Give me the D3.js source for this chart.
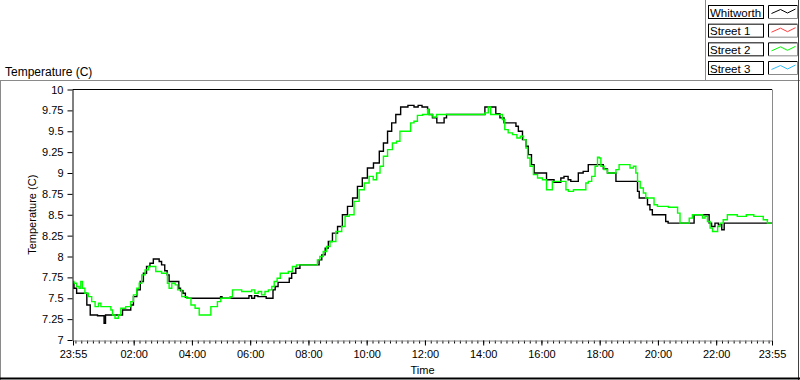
<!DOCTYPE html>
<html><head><meta charset="utf-8">
<script src="https://cdn.jsdelivr.net/npm/d3@7"></script>
<style>body{margin:0;background:#fff;overflow:hidden} text{font-family:"Liberation Sans",Arial,sans-serif}</style>
</head><body><svg id="c" width="800" height="380"></svg>
<script>
const seriesNames = ["Whitworth", "Street 1", "Street 2", "Street 3"];
const seriesColors = ["#000000", "#ff3a3a", "#00ff00", "#33bbff"];
const xTickMinutes = [0, 125, 245, 365, 485, 605, 725, 845, 965, 1085, 1205, 1325, 1440];
const xTickLabels = ["23:55", "02:00", "04:00", "06:00", "08:00", "10:00", "12:00", "14:00", "16:00", "18:00", "20:00", "22:00", "23:55"];
const yTicks = [7, 7.25, 7.5, 7.75, 8, 8.25, 8.5, 8.75, 9, 9.25, 9.5, 9.75, 10];
const yTitle = "Temperature (C)";
const xTitle = "Time";

// [minutes since 23:55, temperature]
const whitworth = [
[0,7.68],[4,7.62],[11,7.56],[25,7.56],[32,7.42],[39,7.30],[62,7.29],[66,7.20],[68,7.30],[76,7.30],
[100,7.30],[104,7.36],[117,7.36],[121,7.42],[128,7.52],[135,7.60],[142,7.70],[148,7.80],[155,7.88],[162,7.92],
[169,7.97],[176,7.97],[179,7.94],[186,7.90],[192,7.83],[196,7.78],[200,7.70],[217,7.70],[219,7.62],[224,7.59],
[229,7.56],[234,7.51],[238,7.50],[303,7.50],[305,7.52],[309,7.50],[360,7.50],[365,7.53],[371,7.50],[377,7.53],
[385,7.52],[411,7.50],[413,7.60],[420,7.64],[425,7.69],[444,7.69],[447,7.74],[454,7.80],[464,7.86],[471,7.90],
[505,7.90],[509,7.96],[516,8.02],[523,8.10],[529,8.18],[540,8.28],[550,8.36],[560,8.50],[571,8.60],[581,8.70],
[591,8.84],[601,8.94],[612,9.06],[626,9.12],[636,9.26],[643,9.36],[653,9.50],[660,9.60],[670,9.70],[680,9.79],
[700,9.81],[705,9.79],[717,9.81],[721,9.79],[729,9.79],[732,9.76],[735,9.70],[746,9.66],[753,9.60],[763,9.60],
[766,9.66],[773,9.70],[845,9.70],[852,9.79],[869,9.79],[873,9.71],[886,9.66],[890,9.60],[911,9.60],[914,9.56],
[921,9.50],[931,9.40],[935,9.32],[941,9.22],[948,9.10],[952,9.00],[972,9.00],[979,8.92],[1003,8.89],[1007,8.94],
[1016,8.96],[1024,8.92],[1027,8.90],[1038,8.90],[1044,9.00],[1058,9.02],[1065,9.10],[1089,9.10],[1096,9.05],[1106,9.00],
[1117,9.00],[1120,8.90],[1161,8.90],[1165,8.78],[1168,8.70],[1182,8.70],[1185,8.62],[1192,8.56],[1195,8.50],[1219,8.50],
[1223,8.42],[1229,8.40],[1278,8.40],[1281,8.50],[1309,8.50],[1312,8.40],[1319,8.36],[1326,8.40],[1333,8.38],[1340,8.32],
[1343,8.40],[1440,8.40]
];

const street2 = [
[0,7.70],[4,7.68],[11,7.64],[14,7.62],[18,7.70],[21,7.62],[28,7.56],[35,7.52],[42,7.46],[49,7.40],
[56,7.44],[59,7.40],[76,7.40],[80,7.36],[83,7.30],[90,7.26],[97,7.30],[100,7.38],[117,7.40],[121,7.46],
[128,7.54],[135,7.62],[138,7.68],[145,7.78],[152,7.84],[159,7.88],[169,7.88],[172,7.82],[193,7.80],[196,7.68],
[200,7.62],[207,7.68],[214,7.66],[217,7.60],[231,7.52],[238,7.50],[248,7.42],[255,7.38],[265,7.30],[282,7.30],
[286,7.40],[296,7.40],[299,7.46],[310,7.50],[320,7.50],[327,7.52],[330,7.60],[365,7.58],[371,7.60],[378,7.56],
[385,7.58],[392,7.54],[399,7.58],[406,7.60],[413,7.64],[416,7.70],[425,7.74],[429,7.80],[440,7.80],[447,7.82],
[457,7.88],[464,7.90],[502,7.90],[505,7.96],[512,8.00],[519,8.06],[526,8.12],[533,8.18],[550,8.30],[557,8.36],
[564,8.48],[574,8.50],[584,8.66],[595,8.80],[605,8.88],[615,8.96],[622,8.92],[629,9.00],[636,9.08],[643,9.20],
[653,9.28],[663,9.36],[670,9.38],[677,9.50],[694,9.50],[697,9.60],[708,9.62],[711,9.69],[729,9.70],[732,9.76],
[735,9.70],[748,9.67],[750,9.70],[845,9.70],[852,9.72],[859,9.79],[862,9.70],[883,9.70],[886,9.64],[893,9.52],
[900,9.48],[911,9.46],[918,9.42],[925,9.44],[931,9.40],[935,9.30],[938,9.18],[945,9.08],[952,8.98],[962,8.94],
[972,8.92],[979,8.80],[986,8.80],[989,8.90],[1014,8.90],[1017,8.80],[1024,8.78],[1038,8.80],[1055,8.80],[1058,8.88],
[1065,8.90],[1072,8.96],[1079,9.08],[1082,9.19],[1086,9.18],[1089,9.08],[1099,9.04],[1103,9.00],[1117,9.00],[1120,9.04],
[1130,9.10],[1144,9.10],[1151,9.06],[1158,9.08],[1161,9.00],[1165,8.90],[1172,8.82],[1178,8.76],[1182,8.70],[1195,8.70],
[1199,8.62],[1209,8.60],[1244,8.59],[1247,8.52],[1254,8.40],[1268,8.40],[1271,8.46],[1281,8.50],[1295,8.50],[1299,8.46],
[1305,8.48],[1309,8.42],[1316,8.34],[1319,8.30],[1326,8.30],[1330,8.36],[1336,8.40],[1343,8.44],[1353,8.50],[1384,8.48],
[1390,8.50],[1415,8.48],[1429,8.44],[1432,8.40],[1440,8.40]
];

const svg = d3.select("#c");
const L = 73, R = 772, T = 89.5, B = 340;
const x = d3.scaleLinear().domain([0, 1440]).range([L, R]);
const y = d3.scaleLinear().domain([7, 10]).range([B, T]);

// panel frame
svg.append("line").attr("x1",0).attr("x2",800).attr("y1",80.5).attr("y2",80.5).attr("stroke","#8a8a8a");
svg.append("line").attr("x1",0.5).attr("x2",0.5).attr("y1",80).attr("y2",380).attr("stroke","#8a8a8a");
svg.append("line").attr("x1",705.5).attr("x2",705.5).attr("y1",0).attr("y2",80).attr("stroke","#8a8a8a");
svg.append("line").attr("x1",798.5).attr("x2",798.5).attr("y1",0).attr("y2",380).attr("stroke","#404040");
svg.append("line").attr("x1",0).attr("x2",800).attr("y1",378.5).attr("y2",378.5).attr("stroke","#000").attr("stroke-width",2);

// top-left title
svg.append("text").attr("x",5).attr("y",76).attr("font-size",12).attr("fill","#000").text(yTitle);

// plot area
svg.append("rect").attr("x",L).attr("y",T).attr("width",R-L).attr("height",B-T).attr("fill","#fff");

svg.append("clipPath").attr("id","clp").append("rect").attr("x",L).attr("y",T-2).attr("width",R-L).attr("height",B-T+4);

const line = d3.line().curve(d3.curveStep).x(d => x(d[0])).y(d => y(d[1]));
const plotG = svg.append("g").attr("clip-path","url(#clp)");
plotG.append("path").datum(whitworth).attr("d",line).attr("fill","none").attr("stroke",seriesColors[0]).attr("stroke-width",1.4).attr("stroke-linejoin","miter");
plotG.append("path").datum(street2).attr("d",line).attr("fill","none").attr("stroke",seriesColors[2]).attr("stroke-width",1.4).attr("stroke-linejoin","miter");

// plot borders
svg.append("line").attr("x1",L-0.5).attr("x2",R).attr("y1",T).attr("y2",T).attr("stroke","#000");
svg.append("line").attr("x1",R+0.5).attr("x2",R+0.5).attr("y1",T).attr("y2",B).attr("stroke","#8a8a8a");

// y axis
const yAxis = d3.axisLeft(y).tickValues(yTicks).tickFormat(d => String(d)).tickSize(5).tickSizeOuter(0).tickPadding(4);
const gy = svg.append("g").attr("transform",`translate(${L-0.5},0)`).call(yAxis);
gy.select(".domain").attr("stroke","#000");
gy.selectAll(".tick line").attr("stroke","#000");
gy.selectAll("text").attr("font-size",11).attr("font-family","'Liberation Sans',Arial,sans-serif").attr("fill","#000");

// x axis minor
const xMinor = d3.axisBottom(x).tickValues(d3.range(5, 1440, 12)).tickSize(3).tickSizeOuter(0).tickFormat("");
const gxm = svg.append("g").attr("transform",`translate(0,${B+0.5})`).call(xMinor);
gxm.select(".domain").remove();
gxm.selectAll(".tick line").attr("stroke","#000");

// x axis major
const xAxis = d3.axisBottom(x).tickValues(xTickMinutes).tickFormat((d,i) => xTickLabels[i]).tickSize(5).tickSizeOuter(0).tickPadding(5);
const gx = svg.append("g").attr("transform",`translate(0,${B+0.5})`).call(xAxis);
gx.select(".domain").attr("stroke","#8a8a8a");
gx.selectAll(".tick line").attr("stroke","#000");
gx.selectAll("text").attr("font-size",11).attr("font-family","'Liberation Sans',Arial,sans-serif").attr("fill","#000");

// axis titles
svg.append("text").attr("x",(L+R)/2).attr("y",374).attr("text-anchor","middle").attr("font-size",11).text(xTitle);
svg.append("text").attr("transform",`translate(36,${(T+B)/2}) rotate(-90)`).attr("text-anchor","middle").attr("font-size",11).text(yTitle);

// legend
const legY = d3.scalePoint().domain(seriesNames).range([5, 61]);
const lg = svg.append("g");
seriesNames.forEach((n, i) => {
  const ty = legY(n);
  lg.append("rect").attr("x",708.5).attr("y",ty+0.5).attr("width",55).attr("height",13).attr("fill","#fff").attr("stroke","#000");
  lg.append("text").attr("x",710).attr("y",ty+11.5).attr("font-size",11.5).attr("fill","#000").text(n);
  const sx = 768.5, sy = ty + 0.5;
  lg.append("rect").attr("x",sx).attr("y",sy).attr("width",29).attr("height",13).attr("fill","#fff").attr("stroke","none");
  lg.append("path").attr("d",`M${sx},${sy+13}V${sy}H${sx+29}`).attr("fill","none").attr("stroke","#000");
  lg.append("path").attr("d",`M${sx+29},${sy}V${sy+13}H${sx}`).attr("fill","none").attr("stroke","#8a8a8a");
  const zz = [[3,8],[12,4],[19,7.5],[27,3.5]];
  lg.append("path").attr("d", d3.line()(zz.map(p => [sx + p[0], sy + p[1]]))).attr("fill","none").attr("stroke",seriesColors[i]).attr("stroke-width",1);
});
</script>
</body></html>
